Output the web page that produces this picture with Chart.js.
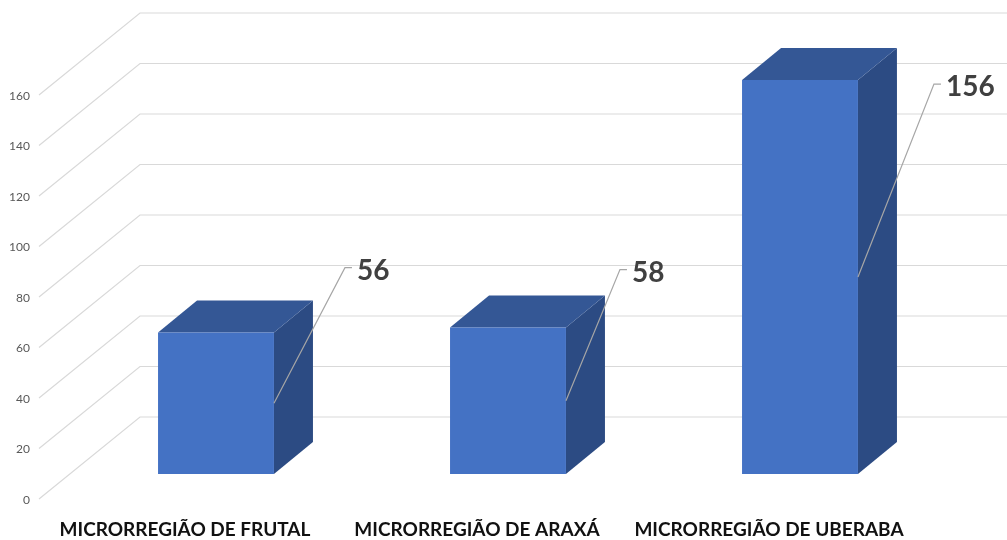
<!DOCTYPE html>
<html>
<head>
<meta charset="utf-8">
<script src="https://cdn.jsdelivr.net/npm/chart.js@4/dist/chart.umd.min.js"></script>
<style>
  html, body { margin: 0; padding: 0; background: #ffffff; }
  #wrap { width: 1007px; height: 540px; position: relative; }
</style>
</head>
<body>
<div id="wrap"><canvas id="c" width="1007" height="540"></canvas></div>
<script>
const categories = ['MICRORREGIÃO DE FRUTAL', 'MICRORREGIÃO DE ARAXÁ', 'MICRORREGIÃO DE UBERABA'];
const values = [56, 58, 156];
const tickValues = [0, 20, 40, 60, 80, 100, 120, 140, 160];

// 3D projection styling (pixels)
const WALL = { dx: 70, dy: -57 };    // front plane -> back wall
const FLOOR = { dx: -31, dy: 25 };   // front plane -> floor front edge
const DEPTH = { dx: 39, dy: -32 };   // bar depth
const labelOffsets = [[83, -62], [66, -55], [88, 7]];

const threeD = {
  id: 'threeD',
  beforeDatasetsDraw(chart) {
    const { ctx, chartArea, scales } = chart;
    const y = scales.y;
    const wallLeft = chartArea.left + WALL.dx;
    ctx.save();
    ctx.strokeStyle = '#d9d9d9';
    ctx.lineWidth = 1.2;
    tickValues.forEach(v => {
      const py = y.getPixelForValue(v) + WALL.dy;
      ctx.beginPath();
      ctx.moveTo(chart.width + 5, py);
      ctx.lineTo(wallLeft, py);
      ctx.lineTo(chartArea.left + FLOOR.dx, y.getPixelForValue(v) + FLOOR.dy);
      ctx.stroke();
    });
    // tick labels
    ctx.fillStyle = '#595959';
    ctx.font = '12px Lato, "Liberation Sans", sans-serif';
    ctx.textAlign = 'right';
    ctx.textBaseline = 'middle';
    tickValues.forEach(v => {
      ctx.fillText(String(v), chartArea.left + FLOOR.dx - 9, y.getPixelForValue(v) + FLOOR.dy + 1);
    });
    // bar tops and sides
    const meta = chart.getDatasetMeta(0);
    meta.data.forEach(bar => {
      const l = bar.x - bar.width / 2, r = bar.x + bar.width / 2;
      const t = bar.y, b = bar.base;
      // side
      ctx.fillStyle = '#2c4b83';
      ctx.beginPath();
      ctx.moveTo(r, t); ctx.lineTo(r + DEPTH.dx, t + DEPTH.dy);
      ctx.lineTo(r + DEPTH.dx, b + DEPTH.dy); ctx.lineTo(r, b);
      ctx.closePath(); ctx.fill();
      // top
      ctx.fillStyle = '#345795';
      ctx.beginPath();
      ctx.moveTo(l, t); ctx.lineTo(l + DEPTH.dx, t + DEPTH.dy);
      ctx.lineTo(r + DEPTH.dx, t + DEPTH.dy); ctx.lineTo(r, t);
      ctx.closePath(); ctx.fill();
    });
    ctx.restore();
  },
  afterDatasetsDraw(chart) {
    const { ctx, chartArea, scales } = chart;
    const meta = chart.getDatasetMeta(0);
    ctx.save();
    // category labels
    ctx.fillStyle = '#111111';
    ctx.font = 'bold 19px Lato, "Liberation Sans", sans-serif';
    ctx.textAlign = 'center';
    ctx.textBaseline = 'middle';
    categories.forEach((c, i) => {
      ctx.fillText(c, scales.x.getPixelForValue(i) + FLOOR.dx, scales.y.getPixelForValue(0) + 56);
    });
    // data labels with leader lines
    meta.data.forEach((bar, i) => {
      const r = bar.x + bar.width / 2;
      const mid = (bar.y + bar.base) / 2;
      const lx = r + labelOffsets[i][0];
      const ly = bar.y + labelOffsets[i][1];
      ctx.strokeStyle = '#a6a6a6';
      ctx.lineWidth = 1.2;
      ctx.beginPath();
      ctx.moveTo(r, mid);
      ctx.lineTo(lx - 12, ly - 3);
      ctx.lineTo(lx - 5, ly - 3);
      ctx.stroke();
      ctx.fillStyle = '#404040';
      ctx.font = 'bold 28px Lato, "Liberation Sans", sans-serif';
      ctx.textAlign = 'left';
      ctx.textBaseline = 'middle';
      ctx.fillText(String(values[i]), lx, ly);
    });
    ctx.restore();
  }
};

new Chart(document.getElementById('c'), {
  type: 'bar',
  data: {
    labels: categories,
    datasets: [{
      data: values,
      backgroundColor: '#4472c4',
      borderWidth: 0,
      barPercentage: 0.397,
      categoryPercentage: 1.0
    }]
  },
  options: {
    responsive: false,
    animation: false,
    layout: { padding: { left: 70, right: 61, top: 70, bottom: 66 } },
    plugins: { legend: { display: false }, tooltip: { enabled: false } },
    scales: {
      x: { display: false },
      y: { display: false, min: 0, max: 160 }
    }
  },
  plugins: [threeD]
});
</script>
</body>
</html>
